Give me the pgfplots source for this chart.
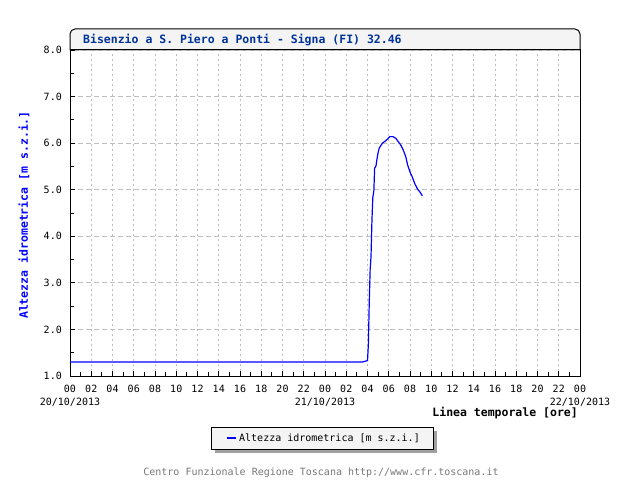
\documentclass[border=0pt]{standalone}
\usepackage{fontspec}
\setmainfont{DejaVu Sans Mono}
\setmonofont{DejaVu Sans Mono}
\usepackage{pgfplots}
\pgfplotsset{compat=1.18}
\definecolor{titleblue}{RGB}{0,51,153}
\definecolor{boxgray}{RGB}{244,244,244}
\definecolor{gridgray}{RGB}{190,190,190}
\definecolor{footgray}{RGB}{120,120,120}
\definecolor{shadowgray}{RGB}{160,160,160}
\begin{document}
\begin{tikzpicture}
\useasboundingbox[fill=white] (0pt,0pt) rectangle (640pt,480pt);
% title box
\draw[fill=boxgray, line width=1pt] (70pt,430pt) [rounded corners=5pt] -- (70pt,451pt) -- (580pt,451pt) [sharp corners] -- (580pt,430pt) -- cycle;
\node[anchor=west, text=titleblue, inner sep=0pt, font=\bfseries\fontsize{11.5}{13}\selectfont] at (83pt,440pt) {Bisenzio a S. Piero a Ponti - Signa (FI) 32.46};
% legend box with shadow
\fill[shadowgray] (215pt,27pt) rectangle (437pt,49pt);
\draw[fill=boxgray, line width=1pt] (211pt,31pt) rectangle (433pt,53pt);
% y label
\node[rotate=90, text=blue, inner sep=0pt, font=\bfseries\fontsize{11.5}{13}\selectfont] at (24pt,265pt) {Altezza idrometrica [m s.z.i.]};
% x label
\node[anchor=east, inner sep=0pt, font=\bfseries\fontsize{11.5}{13}\selectfont] at (578pt,67pt) {Linea temporale [ore]};
% footer
\node[text=footgray, inner sep=0pt, font=\fontsize{10}{12}\selectfont] at (321pt,7pt) {Centro Funzionale Regione Toscana http://www.cfr.toscana.it};
\begin{axis}[
  at={(70pt,104pt)}, anchor=south west,
  scale only axis, width=510pt, height=326pt,
  xmin=0, xmax=48, ymin=1, ymax=8,
  axis line style={black, line width=1pt},
  xtick={0,2,...,48},
  xticklabels={{00\\[1pt]20/10/2013},02,04,06,08,10,12,14,16,18,20,22,{00\\[1pt]21/10/2013},02,04,06,08,10,12,14,16,18,20,22,{00\\[1pt]22/10/2013}},
  xticklabel style={align=center, inner sep=0pt, yshift=-9pt, font=\fontsize{10}{12}\selectfont},
  ytick={1,2,...,8},
  yticklabel style={inner sep=0pt, xshift=-8pt, font=\fontsize{10}{12}\selectfont},
  /pgf/number format/assume math mode=true,
  /pgf/number format/.cd, fixed, fixed zerofill, precision=1, /pgfplots/.cd,
  minor x tick num=1, minor y tick num=1,
  tick align=inside,
  xtick pos=bottom, ytick pos=left,
  major tick length=5pt, minor tick length=4pt,
  tick style={black, line width=0.8pt},
  xmajorgrids, ymajorgrids,
  x grid style={gridgray, line width=0.8pt, dash pattern=on 2pt off 3pt},
  y grid style={gridgray, line width=0.8pt, dash pattern=on 5pt off 3pt},
  legend style={at={(axis description cs:0.498,-0.190)}, anchor=center, draw=none, fill=none, font=\fontsize{10}{12}\selectfont, inner sep=0pt},
  legend cell align=left,
  legend image code/.code={\draw[#1, line width=2pt] (-6pt,0pt) -- (3pt,0pt);},
]
\addplot[blue, line width=1.2pt] coordinates {
(0,1.30) (27.5,1.30) (28.0,1.33) (28.08,1.67) (28.17,2.63) (28.25,3.29)
(28.33,3.56) (28.42,4.35) (28.5,4.83) (28.6,4.98) (28.67,5.46) (28.8,5.51)
(28.9,5.67) (29.0,5.80) (29.1,5.89) (29.4,6.00) (29.65,6.04) (29.9,6.09)
(30.1,6.14) (30.4,6.14) (30.68,6.10) (30.9,6.03) (31.13,5.96) (31.37,5.85)
(31.6,5.71) (31.78,5.53) (32.0,5.38) (32.2,5.28) (32.47,5.12) (32.72,5.01)
(32.94,4.95) (33.16,4.87)
};
\addlegendentry{Altezza idrometrica [m s.z.i.]}
\end{axis}
\end{tikzpicture}
\end{document}
